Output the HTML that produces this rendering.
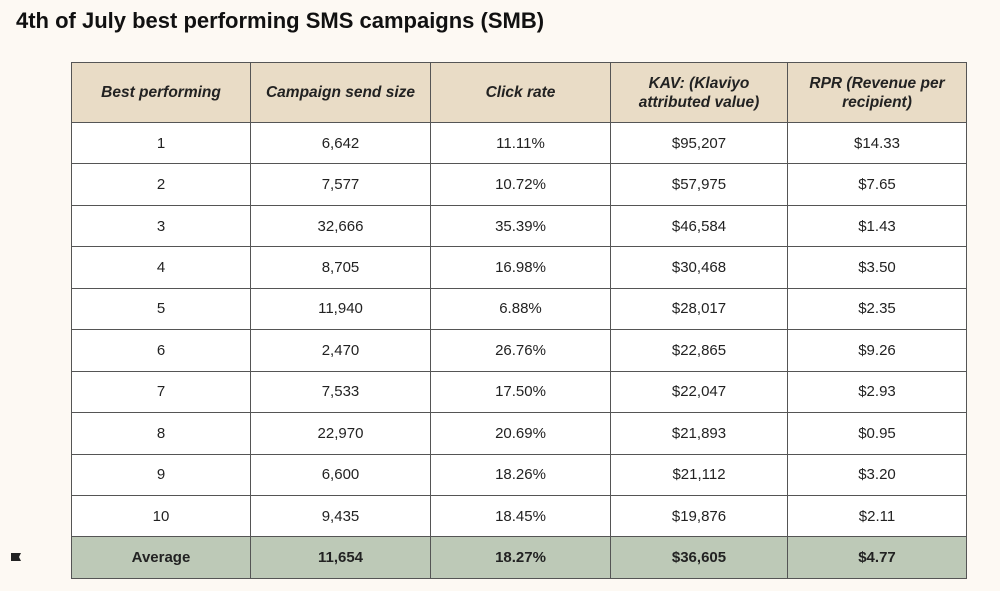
<!DOCTYPE html>
<html><head><meta charset="utf-8"><style>
body{margin:0;width:1000px;height:591px;background:#fdf9f3;font-family:"Liberation Sans",Arial,sans-serif;position:relative;overflow:hidden}
h1{position:absolute;left:16px;top:8px;margin:0;font-size:22px;font-weight:bold;color:#111}
table{position:absolute;left:71px;top:62px;border-collapse:collapse;table-layout:fixed}
td,th{border:1.5px solid #555;text-align:center;font-size:15px;color:#222;padding:0}
th{background:#e9dcc6;height:59px;font-style:italic;font-weight:bold;line-height:19px;font-size:15.5px}
tr.r td{background:#fff;height:40px}
tr.r{height:41.45px}
tr.avg td{background:#bdc9b7;font-weight:bold}
.icon{position:absolute;left:11px;top:553px;width:10px;height:8px;background:#222;clip-path:polygon(0 0,100% 0,80% 50%,100% 100%,0 100%)}
</style></head><body>
<h1>4th of July best performing SMS campaigns (SMB)</h1>
<table>
<colgroup><col style="width:179px"><col style="width:180px"><col style="width:180px"><col style="width:177px"><col style="width:179px"></colgroup>
<tr><th>Best performing</th><th>Campaign send size</th><th>Click rate</th><th>KAV: (Klaviyo<br>attributed value)</th><th>RPR (Revenue per<br>recipient)</th></tr>
<tr class="r"><td>1</td><td>6,642</td><td>11.11%</td><td>$95,207</td><td>$14.33</td></tr>
<tr class="r"><td>2</td><td>7,577</td><td>10.72%</td><td>$57,975</td><td>$7.65</td></tr>
<tr class="r"><td>3</td><td>32,666</td><td>35.39%</td><td>$46,584</td><td>$1.43</td></tr>
<tr class="r"><td>4</td><td>8,705</td><td>16.98%</td><td>$30,468</td><td>$3.50</td></tr>
<tr class="r"><td>5</td><td>11,940</td><td>6.88%</td><td>$28,017</td><td>$2.35</td></tr>
<tr class="r"><td>6</td><td>2,470</td><td>26.76%</td><td>$22,865</td><td>$9.26</td></tr>
<tr class="r"><td>7</td><td>7,533</td><td>17.50%</td><td>$22,047</td><td>$2.93</td></tr>
<tr class="r"><td>8</td><td>22,970</td><td>20.69%</td><td>$21,893</td><td>$0.95</td></tr>
<tr class="r"><td>9</td><td>6,600</td><td>18.26%</td><td>$21,112</td><td>$3.20</td></tr>
<tr class="r"><td>10</td><td>9,435</td><td>18.45%</td><td>$19,876</td><td>$2.11</td></tr>
<tr class="r avg"><td>Average</td><td>11,654</td><td>18.27%</td><td>$36,605</td><td>$4.77</td></tr>
</table>
<div class="icon"></div>
</body></html>
